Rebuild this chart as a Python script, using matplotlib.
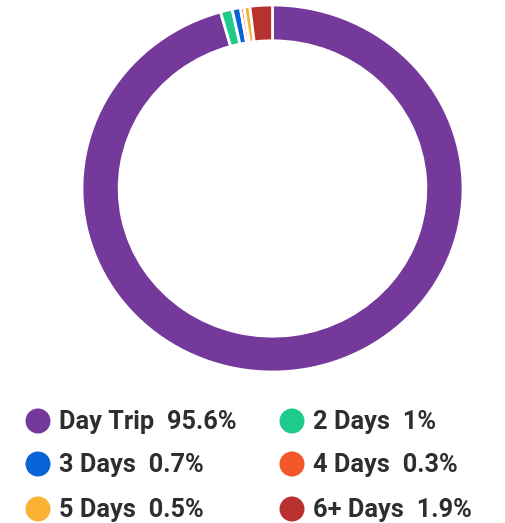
import matplotlib.pyplot as plt

labels = ["Day Trip", "2 Days", "3 Days", "4 Days", "5 Days", "6+ Days"]
values = [95.6, 1, 0.7, 0.3, 0.5, 1.9]
colors = ["#74399A", "#1ECB8D", "#0A63D6", "#F4572A", "#F9B233", "#B8312F"]

W, H = 505, 523
fig = plt.figure(figsize=(W / 100, H / 100), dpi=100)

# donut (slightly squashed, like the reference)
ax = fig.add_axes([82 / W, 151 / H, 381 / W, 367 / H])
ax.pie(values, colors=colors, startangle=90, counterclock=False, radius=1,
       wedgeprops=dict(width=0.195, edgecolor="white", linewidth=2))
ax.set_xlim(-1, 1)
ax.set_ylim(-1, 1)
ax.set_aspect("auto")
ax.axis("off")

# legend, two columns
lax = fig.add_axes([0, 0, 1, 1])
lax.set_xlim(0, W)
lax.set_ylim(H, 0)
lax.axis("off")
col_x = [38, 292]
row_y = [421, 464, 509]
for i, (lab, val, c) in enumerate(zip(labels, values, colors)):
    x = col_x[i % 2]
    y = row_y[i // 2]
    lax.scatter([x], [y], s=(25 * 0.72) ** 2, color=c, edgecolors="none")
    lax.text(x + 21, y + 1, f"{lab}  {val:g}%", fontsize=18.3, fontweight="bold",
             color="#2E2E2E", va="center", ha="left", family="Roboto")

fig.savefig("out.png", dpi=100)
